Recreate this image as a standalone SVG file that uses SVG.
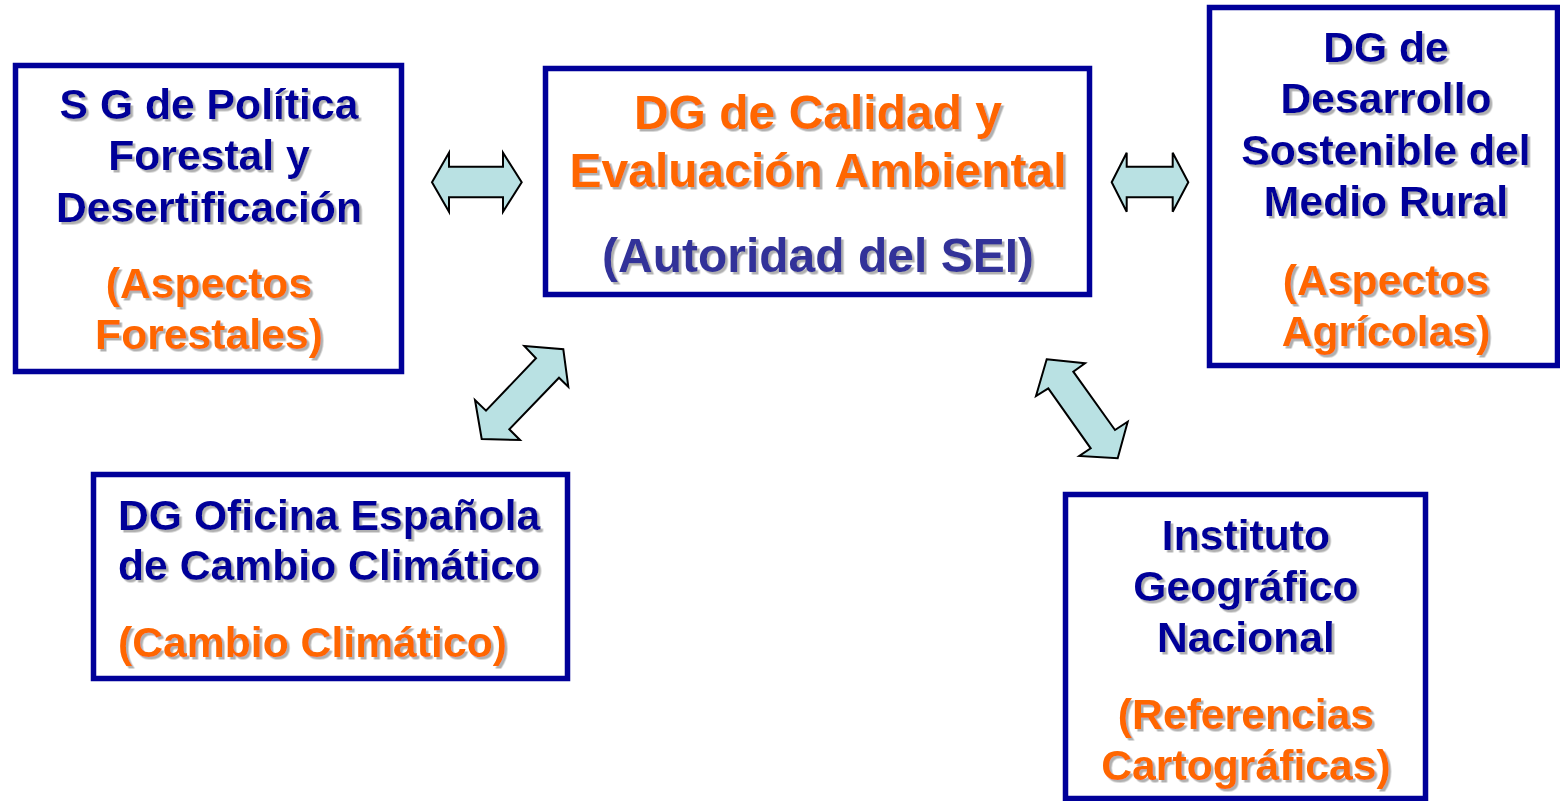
<svg xmlns="http://www.w3.org/2000/svg" width="1560" height="801" viewBox="0 0 1560 801">
<defs>
<filter id="sh" x="-5%" y="-5%" width="110%" height="120%">
<feDropShadow dx="2.5" dy="2.5" stdDeviation="0.6" flood-color="#a8a8a8" flood-opacity="0.9"/>
</filter>
</defs>
<style>
.box{fill:#fff;stroke:#000099;stroke-width:5.5}
.t{font-family:"Liberation Sans",Arial,sans-serif;font-weight:bold;font-size:42.7px;text-anchor:middle;filter:url(#sh)}
.n{fill:#000099}
.o{fill:#ff6600}
.p{fill:#333399}
.l{text-anchor:start}
.big{font-size:48px}
.arr{fill:#b9e1e3;stroke:#000;stroke-width:2;stroke-linejoin:miter}
</style>
<rect width="1560" height="801" fill="#fff"/>
<g id="node-sg-politica-forestal">
<rect class="box" x="15.5" y="65.5" width="386" height="306"/>
<text class="t n" x="209" y="119">S G de Política</text>
<text class="t n" x="209" y="170">Forestal y</text>
<text class="t n" x="209" y="222">Desertificación</text>
<text class="t o" x="209" y="298">(Aspectos</text>
<text class="t o" x="209" y="349">Forestales)</text>
</g>
<g id="node-dg-calidad">
<rect class="box" x="545.5" y="68.5" width="544" height="226"/>
<text class="t o big" x="818" y="129">DG de Calidad y</text>
<text class="t o big" x="818" y="187">Evaluación Ambiental</text>
<text class="t p big" x="818" y="272">(Autoridad del SEI)</text>
</g>
<g id="node-dg-desarrollo-rural">
<rect class="box" x="1209.5" y="7.5" width="348" height="358"/>
<text class="t n" x="1386" y="62">DG de</text>
<text class="t n" x="1386" y="113">Desarrollo</text>
<text class="t n" x="1386" y="165">Sostenible del</text>
<text class="t n" x="1386" y="216">Medio Rural</text>
<text class="t o" x="1386" y="295">(Aspectos</text>
<text class="t o" x="1386" y="346">Agrícolas)</text>
</g>
<g id="node-dg-cambio-climatico">
<rect class="box" x="93.5" y="474.5" width="474" height="204"/>
<text class="t n l" x="118" y="530">DG Oficina Española</text>
<text class="t n l" x="118" y="580">de Cambio Climático</text>
<text class="t o l" x="118" y="657">(Cambio Climático)</text>
</g>
<g id="node-ign">
<rect class="box" x="1065.5" y="494.5" width="360" height="304"/>
<text class="t n" x="1246" y="550">Instituto</text>
<text class="t n" x="1246" y="601">Geográfico</text>
<text class="t n" x="1246" y="652">Nacional</text>
<text class="t o" x="1246" y="729">(Referencias</text>
<text class="t o" x="1246" y="780">Cartográficas)</text>
</g>
<g id="connectors">
<polygon class="arr" points="432,182.3 449,152.7 449,166.7 503,166.7 503,152.7 521.7,182.3 503,211.7 503,197.3 449,197.3 449,211.7"/>
<polygon class="arr" points="1111.7,182.3 1126.7,152.7 1126.7,166.7 1172.7,166.7 1172.7,152.7 1188.3,182.3 1172.7,211.7 1172.7,197.3 1126.7,197.3 1126.7,211.7"/>
<polygon class="arr" points="524.3,346 563.3,349.3 568.3,386.7 559,377.7 509.3,429.3 520,440 481.7,439 475,400 486,410.7 536,358.3"/>
<polygon class="arr" points="1046.7,359.3 1085,363.3 1073.3,371.7 1115,430 1127.7,421.7 1117.7,458.3 1079.3,456 1090.7,448.3 1048.3,388.3 1036,396"/>
</g>
</svg>
